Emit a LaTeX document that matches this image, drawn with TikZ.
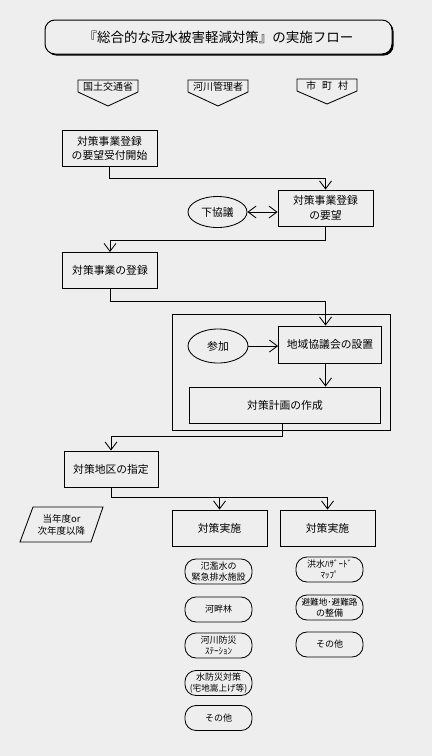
\documentclass[tikz,border=0pt]{standalone}
\usepackage{fontspec}
\setmainfont{Noto Sans CJK JP}
\usetikzlibrary{arrows.meta,shapes.geometric,shadows}
\definecolor{paper}{RGB}{238,238,238}
\begin{document}
\begin{tikzpicture}[x=1pt,y=-1pt,
  every node/.style={inner sep=0pt},
  bx/.style={draw,line width=0.85pt,align=center,minimum width=95pt,minimum height=36pt,font=\fontsize{10.8}{14.5}\selectfont},
  rbx/.style={draw,line width=0.85pt,rounded corners=11pt,align=center,minimum width=67pt,minimum height=25pt,font=\fontsize{9}{11}\selectfont},
  oval/.style={draw,ellipse,line width=0.85pt,minimum width=59pt,minimum height=31pt,font=\fontsize{10.8}{13}\selectfont},
  hdr/.style={font=\fontsize{10}{12}\selectfont},
  ln/.style={line width=0.85pt},
  arr/.style={line width=0.85pt,-{Straight Barb[length=8pt,width=12pt,line width=0.85pt]}},
  darr/.style={line width=0.85pt,{Straight Barb[length=8pt,width=12pt,line width=0.85pt]}-{Straight Barb[length=8pt,width=12pt,line width=0.85pt]}}
]
\fill[paper] (0,0) rectangle (432,756);
\useasboundingbox (0,0) rectangle (432,756);

% title
\node[draw,line width=1pt,rounded corners=10pt,fill=paper,minimum width=347pt,minimum height=34pt,
  drop shadow={shadow xshift=1.6pt,shadow yshift=-1.6pt,fill=black,opacity=1},
  font=\fontsize{13.5}{16}\selectfont] (title) at (218.5,37) {『総合的な冠水被害軽減対策』の実施フロー};

% headers
\draw[ln] (78,80) -- (138,80) -- (138,92) -- (108,106) -- (78,92) -- cycle;
\node[hdr] (h1) at (108,87) {国土交通省};
\draw[ln] (188,80) -- (248,80) -- (248,92) -- (218,106) -- (188,92) -- cycle;
\node[hdr] (h2) at (218,87) {河川管理者};
\draw[ln] (297,79) -- (357,79) -- (357,91) -- (327,104) -- (297,91) -- cycle;
\node[hdr] (h3) at (327,86) {市\hspace{0.6em}町\hspace{0.6em}村};

% boxes
\node[bx] (b1) at (109.5,148.5) {対策事業登録\\の要望受付開始};
\node[bx] (b2) at (325.5,208) {対策事業登録\\の要望};
\node[oval] (o1) at (217.5,212) {下協議};
\node[bx] (b3) at (110,270.5) {対策事業の登録};

\draw[ln] (172,314) rectangle (390,430);
\node[bx,minimum width=103pt,minimum height=37pt] (b4) at (330,344.5) {地域協議会の設置};
\node[oval,minimum width=60pt,minimum height=34pt] (o2) at (218,346) {参加};
\node[bx,minimum width=191pt,minimum height=36pt] (b5) at (285,405) {対策計画の作成};

\node[bx,minimum width=94pt] (b6) at (111,469) {対策地区の指定};
\node[bx] (b7) at (219.5,528) {対策実施};
\node[bx] (b8) at (327.5,528) {対策実施};

\draw[ln] (20,542) -- (33,507) -- (103,507) -- (91,542) -- cycle;
\node[align=center,font=\fontsize{9.5}{12}\selectfont] (yr) at (61.5,524.5) {当年度or\\次年度以降};

% rounded boxes
\node[rbx] (r1) at (218.5,571.5) {氾濫水の\\緊急排水施設};
\node[rbx] (r2) at (218.5,609.5) {河畔林};
\node[rbx] (r3) at (218.5,645.5) {河川防災\\ｽﾃｰｼｮﾝ};
\node[rbx] (r4) at (218.5,683) {水防災対策\\{\fontsize{8.6}{11}\selectfont(宅地嵩上げ等)}};
\node[rbx] (r5) at (218.5,718) {その他};
\node[rbx] (s1) at (329.5,569.5) {洪水ﾊｻﾞｰﾄﾞ\\ﾏｯﾌﾟ};
\node[rbx] (s2) at (329.5,607.5) {{\fontsize{8.6}{11}\selectfont 避難地･避難路}\\の整備};
\node[rbx] (s3) at (329.5,644.5) {その他};

% connectors
\draw[arr] (b1.south) -- (b1.south |- 0,178) -| (b2.north);
\draw[darr] (o1.east) -- (b2.west |- o1.east);
\draw[arr] (b2.south) -- (b2.south |- 0,240) -| (b3.north);
\draw[arr] (b3.south) -- (b3.south |- 0,301) -| (b4.north -| b2.south);
\draw[arr] (o2.east) -- (b4.west |- o2.east);
\draw[arr] (b4.south -| b2.south) -- (b5.north -| b2.south);
\draw[arr] (b5.south -| 282,0) -- (282,436) -| (b6.north);
\coordinate (j) at (b7.north |- 0,497);
\draw[arr] (b6.south) -- (b6.south |- 0,497) -| (b8.north);
\draw[arr] (j) -- (b7.north);
\end{tikzpicture}
\end{document}
